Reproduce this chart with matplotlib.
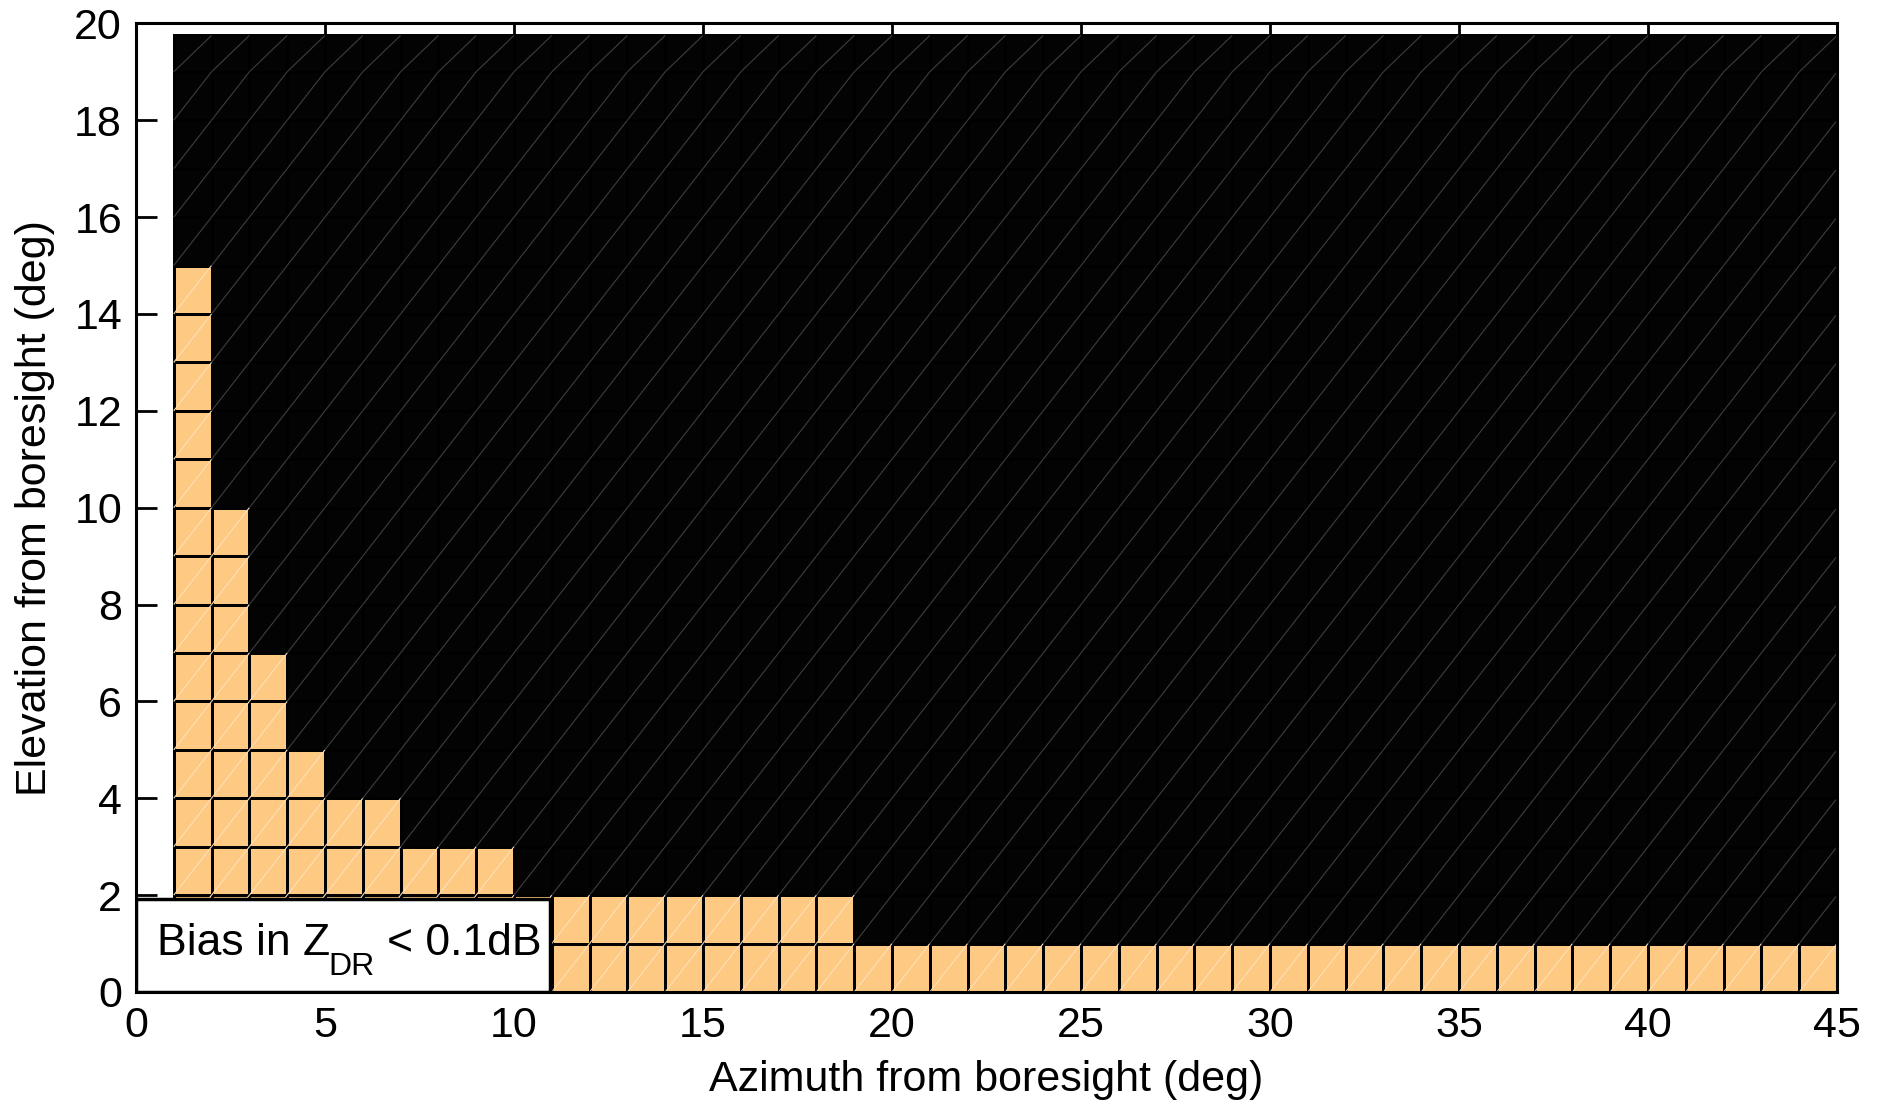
import matplotlib
matplotlib.use("Agg")
import matplotlib.pyplot as plt
from matplotlib.collections import LineCollection
from matplotlib.patches import Rectangle
import numpy as np

plt.rcParams["font.family"] = ["Liberation Sans", "DejaVu Sans"]

# cell edges of the azimuth / elevation grid (deg)
az_edges = np.arange(1, 46)
el_edges = np.array(list(range(0, 20)) + [19.75])
# highest elevation (deg) where bias in ZDR < 0.1 dB, per azimuth column
ok_top = [15, 10, 7, 5, 4, 4, 3, 3, 3] + [2] * 9 + [1] * 26

orange = "#fec982"
black = "#030303"

el_mid = (el_edges[:-1] + el_edges[1:]) / 2
mask = np.array([[1 if e < t else 0 for t in ok_top] for e in el_mid])

fig = plt.figure(figsize=(18.83, 11.07), dpi=100)
ax = fig.add_axes([0.0722, 0.1039, 0.9034, 0.875])

cmap = matplotlib.colors.ListedColormap([black, orange])
ax.pcolormesh(az_edges, el_edges, mask, cmap=cmap, vmin=0, vmax=1,
              edgecolors="black", linewidth=1.8)

# faint diagonals left by the triangulated cells
segs, cols = [], []
for j in range(len(el_edges) - 1):
    for i in range(len(az_edges) - 1):
        segs.append([(az_edges[i], el_edges[j]), (az_edges[i + 1], el_edges[j + 1])])
        cols.append("#ffe0b8" if mask[j, i] else "#3e3e3e")
ax.add_collection(LineCollection(segs, colors=cols, linewidths=0.8, zorder=2))

ax.set_xlim(0, 45)
ax.set_ylim(0, 20)
ax.set_xticks(np.arange(0, 46, 5))
ax.set_yticks(np.arange(0, 21, 2))
ax.tick_params(direction="in", length=15, width=2, labelsize=31,
               top=True, right=True, pad=10)
for s in ax.spines.values():
    s.set_linewidth(2.2)
    s.set_zorder(5)

ax.set_xlabel("Azimuth from boresight (deg)", fontsize=31, labelpad=10)
ax.set_ylabel("Elevation from boresight (deg)", fontsize=31, labelpad=14)

# text box in the lower-left corner, subscript placed by hand (sits low)
ax.add_patch(Rectangle((0, 0), 10.95, 1.93, facecolor="white",
                       edgecolor="black", linewidth=2.5, zorder=6))
t1 = ax.text(0.55, 0.76, "Bias in Z", fontsize=32, ha="left", va="baseline", zorder=7)
fig.canvas.draw()
r = fig.canvas.get_renderer()
bb = t1.get_window_extent(r)
base_px = ax.transData.transform((0.55, 0.76))[1]
inv = ax.transData.inverted()
x2, y2 = inv.transform((bb.x1 - 1, base_px - 20))
t2 = ax.text(x2, y2, "DR", fontsize=23, ha="left", va="baseline", zorder=7)
bb2 = t2.get_window_extent(r)
x3, _ = inv.transform((bb2.x1 + 12, base_px))
ax.text(x3, 0.76, "< 0.1dB", fontsize=32, ha="left", va="baseline", zorder=7)

fig.savefig("out.png", dpi=100)
